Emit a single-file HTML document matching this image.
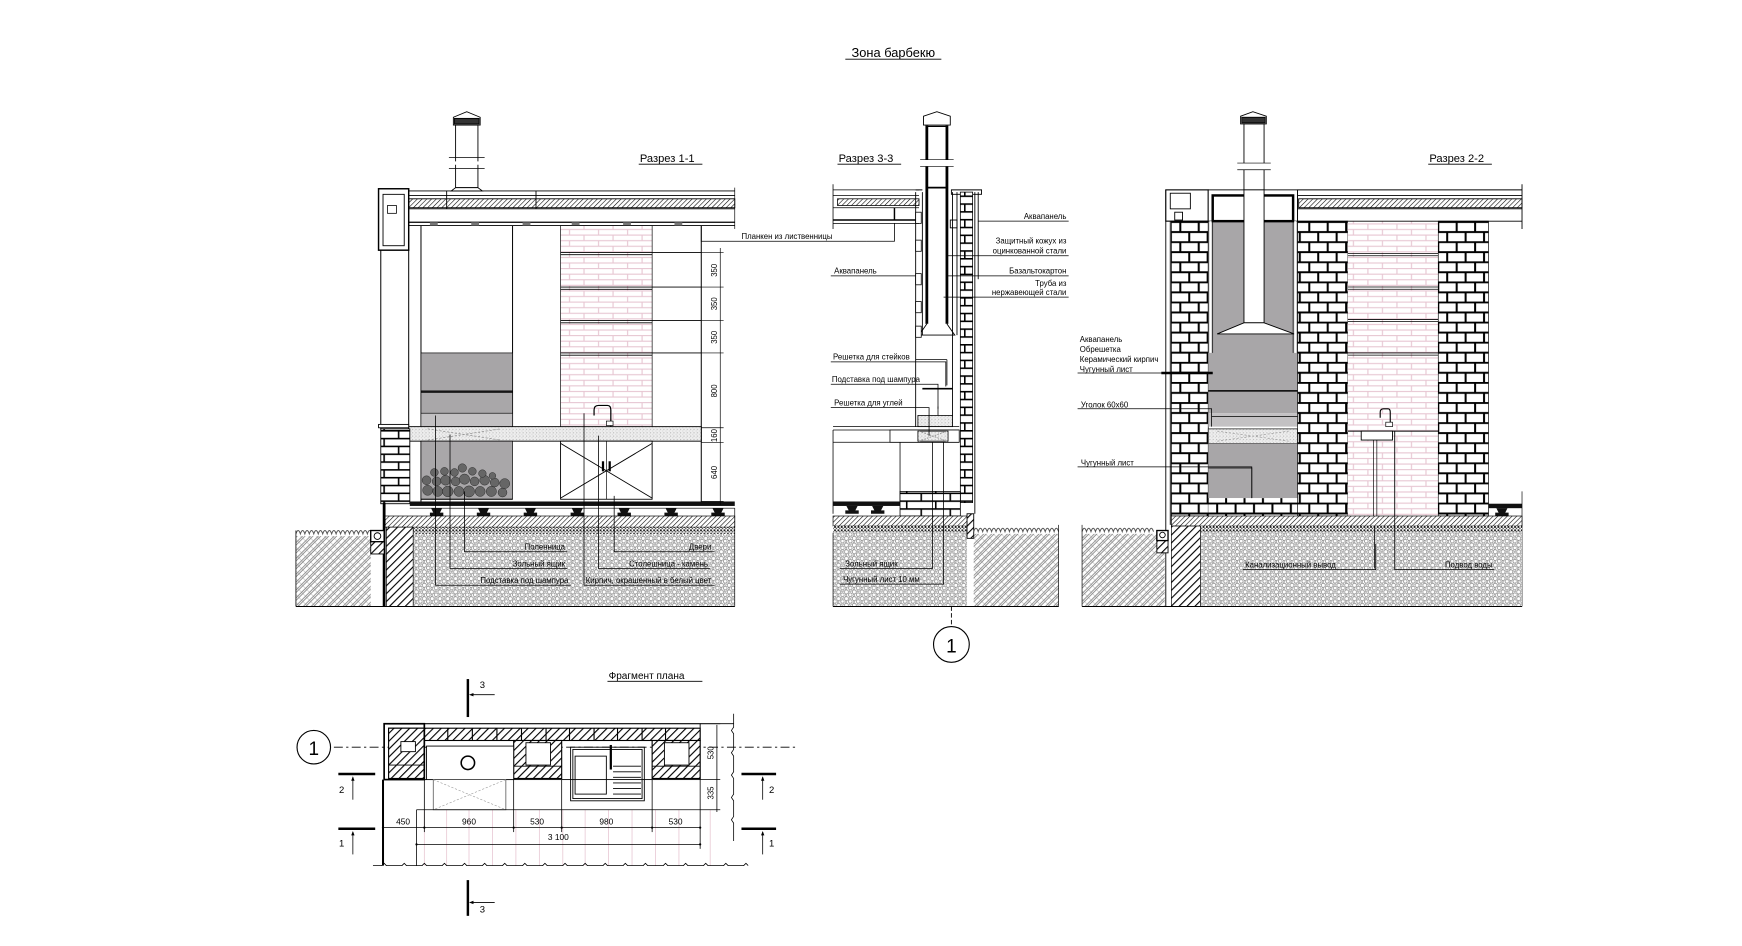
<!DOCTYPE html>
<html><head><meta charset="utf-8"><style>
html,body{margin:0;padding:0;background:#fff;}
svg{display:block;}
text{font-family:"Liberation Sans",sans-serif;fill:#000;}
</style></head><body>
<svg width="1742" height="946" viewBox="0 0 1560 847" preserveAspectRatio="none" xmlns="http://www.w3.org/2000/svg">
<defs>
<pattern id="hat" width="3" height="3" patternUnits="userSpaceOnUse" patternTransform="rotate(45)"><rect width="3" height="3" fill="#fff"/><line x1="0" y1="0" x2="0" y2="3" stroke="#000" stroke-width="1"/></pattern>
<pattern id="hatp" width="5" height="5" patternUnits="userSpaceOnUse" patternTransform="rotate(45)"><rect width="5" height="5" fill="#fff"/><line x1="0" y1="0" x2="0" y2="5" stroke="#000" stroke-width="2"/></pattern>
<pattern id="gr1" width="5" height="5" patternUnits="userSpaceOnUse" patternTransform="rotate(45)"><line x1="1" y1="0" x2="1" y2="5" stroke="#777" stroke-width="0.7"/><line x1="2.6" y1="0" x2="2.6" y2="5" stroke="#777" stroke-width="0.7"/></pattern>
<pattern id="gr2" width="5" height="5" patternUnits="userSpaceOnUse" patternTransform="rotate(-45)"><line x1="1" y1="0" x2="1" y2="5" stroke="#888" stroke-width="0.6"/></pattern>
<pattern id="stone" width="7" height="6" patternUnits="userSpaceOnUse"><rect width="7" height="6" fill="#fff"/><circle cx="2" cy="2" r="1.8" fill="none" stroke="#888" stroke-width="0.7"/><circle cx="5.5" cy="4.5" r="1.6" fill="none" stroke="#888" stroke-width="0.7"/><circle cx="5.5" cy="1" r="0.9" fill="none" stroke="#999" stroke-width="0.6"/><circle cx="1.5" cy="5" r="0.8" fill="none" stroke="#999" stroke-width="0.6"/></pattern>
<pattern id="grav" width="3" height="3" patternUnits="userSpaceOnUse"><rect width="3" height="3" fill="#fff"/><rect width="1.6" height="1.6" fill="#111"/><rect x="1.5" y="1.5" width="1.2" height="1.2" fill="#444"/></pattern>
<pattern id="speck" width="3" height="3" patternUnits="userSpaceOnUse"><rect width="3" height="3" fill="#eee"/><rect width="1" height="1" fill="#bbb"/><rect x="2" y="1.5" width="0.8" height="0.8" fill="#ccc"/></pattern>
<pattern id="brd" width="33" height="18" patternUnits="userSpaceOnUse"><rect width="33" height="18" fill="#fff"/><path d="M0 0.8H33M0 9.8H33M1 0V9M17.5 0V9M9 9V18M25.5 9V18" stroke="#000" stroke-width="1.8"/></pattern>
<pattern id="brs" width="26" height="14" patternUnits="userSpaceOnUse"><rect width="26" height="14" fill="#fff"/><path d="M0 0.7H26M0 7.7H26M6 0V7M19 7V14" stroke="#000" stroke-width="1.4"/></pattern>
<pattern id="brp" width="26" height="10" patternUnits="userSpaceOnUse"><rect width="26" height="10" fill="#fff"/><path d="M0 0.5H26M0 5.5H26M3 0V5M16 5V10" stroke="#e7c6d2" stroke-width="1"/></pattern>
</defs>

<!-- Title -->
<text x="800" y="51" font-size="11.5" text-anchor="middle">Зона барбекю</text>
<line x1="757" y1="53" x2="843" y2="53" stroke="#000" stroke-width="0.8"/>

<!-- ============ SECTION 1-1 ============ -->
<text x="573" y="145" font-size="10">Разрез 1-1</text>
<line x1="572" y1="147" x2="629" y2="147" stroke="#000" stroke-width="0.8"/>
<g stroke="#000" fill="#fff" stroke-width="0.8">
<rect x="408" y="112" width="20" height="56"/>
<path d="M406 112V105L418 100L430 105V112Z"/>
<rect x="407" y="106" width="22" height="5" fill="#333"/>
<path d="M404 171L408 168H428L432 171Z"/>
</g>
<g stroke="#fff" stroke-width="3"><line x1="405" y1="146" x2="431" y2="146"/></g>
<line x1="402" y1="141" x2="434" y2="141" stroke="#000" stroke-width="0.7"/>
<line x1="402" y1="151" x2="434" y2="151" stroke="#000" stroke-width="0.7"/>
<g stroke="#000" stroke-width="0.8" fill="none">
<line x1="339" y1="171" x2="658" y2="171"/>
<line x1="366" y1="175" x2="658" y2="175"/>
<rect x="366" y="178" width="292" height="8" fill="url(#hat)"/>
<line x1="366" y1="187" x2="658" y2="187"/>
<line x1="366" y1="199" x2="658" y2="199" stroke-width="1.2"/>
<line x1="366" y1="202" x2="658" y2="202"/>
<line x1="400" y1="171" x2="400" y2="187"/><line x1="480" y1="171" x2="480" y2="187"/>
</g>
<g fill="#777"><rect x="385" y="199" width="7" height="3"/><rect x="422" y="199" width="7" height="3"/><rect x="468" y="199" width="7" height="3"/><rect x="512" y="199" width="7" height="3"/><rect x="558" y="199" width="7" height="3"/><rect x="604" y="199" width="7" height="3"/></g>
<line x1="658" y1="168" x2="658" y2="205" stroke="#000" stroke-width="0.6"/>
<g stroke="#000" fill="#fff">
<rect x="339" y="169" width="27" height="55" stroke-width="1.3"/>
<rect x="343" y="174" width="19" height="46" stroke-width="0.8"/>
<rect x="347" y="184" width="8" height="7" stroke-width="0.7"/>
</g>
<g stroke="#000" stroke-width="0.9">
<line x1="341" y1="224" x2="341" y2="384"/><line x1="366" y1="224" x2="366" y2="384"/>
<line x1="377" y1="202" x2="377" y2="450"/><line x1="459" y1="202" x2="459" y2="384"/>
<line x1="628" y1="202" x2="628" y2="450"/>
</g>
<rect x="502" y="202" width="82" height="182" fill="url(#brp)" stroke="#000" stroke-width="0.6"/>
<g stroke="#000" stroke-width="0.8">
<line x1="502" y1="226" x2="628" y2="226"/><line x1="502" y1="228" x2="584" y2="228"/>
<line x1="502" y1="257" x2="628" y2="257"/><line x1="502" y1="259" x2="584" y2="259"/>
<line x1="502" y1="287" x2="628" y2="287"/><line x1="502" y1="289" x2="584" y2="289"/>
<line x1="502" y1="316" x2="628" y2="316"/><line x1="502" y1="318" x2="584" y2="318"/>
</g>
<rect x="377" y="316" width="82" height="34" fill="#a7a5a7" stroke="#000" stroke-width="0.6"/>
<rect x="377" y="350" width="82" height="20" fill="#a9a7a9" stroke="#000" stroke-width="0.6"/>
<line x1="377" y1="351" x2="459" y2="351" stroke="#000" stroke-width="1.4"/>
<rect x="377" y="370" width="82" height="13" fill="#c2c0c2" stroke="#000" stroke-width="0.5"/>
<path d="M532 372V367Q532 363 536 363H544Q547 363 547 367V382" fill="none" stroke="#000" stroke-width="1.1"/>
<rect x="543" y="377" width="6" height="4" fill="#fff" stroke="#000" stroke-width="0.6"/>
<rect x="366" y="382" width="262" height="13" fill="url(#speck)" stroke="#000" stroke-width="0.8"/>
<path d="M383 384L448 394M383 394L448 384" stroke="#888" stroke-width="0.6" stroke-dasharray="2,1.5"/>
<rect x="339" y="380" width="27" height="3" fill="#fff" stroke="#000" stroke-width="0.8"/>
<rect x="341" y="384" width="26" height="67" fill="url(#brs)" stroke="#000" stroke-width="0.8"/>
<rect x="377" y="395" width="82" height="52" fill="#a9a7a9" stroke="#000" stroke-width="0.6"/>
<g fill="#666" stroke="#222" stroke-width="0.4">
<circle cx="383" cy="439" r="4.5"/><circle cx="392" cy="440" r="4.5"/><circle cx="401" cy="440" r="4.8"/><circle cx="411" cy="440" r="4.5"/><circle cx="420" cy="440" r="5"/><circle cx="430" cy="440" r="4.5"/><circle cx="440" cy="440" r="4.6"/><circle cx="450" cy="441" r="4"/>
<circle cx="382" cy="430" r="4"/><circle cx="391" cy="431" r="4"/><circle cx="399" cy="430" r="4.4"/><circle cx="408" cy="431" r="4"/><circle cx="416" cy="429" r="4.6"/><circle cx="425" cy="431" r="4"/><circle cx="434" cy="430" r="4.4"/><circle cx="443" cy="432" r="4"/><circle cx="452" cy="433" r="4.5"/>
<circle cx="389" cy="423" r="3.5"/><circle cx="398" cy="422" r="3.5"/><circle cx="407" cy="423" r="3.5"/><circle cx="414" cy="419" r="3.8"/><circle cx="423" cy="422" r="3.5"/><circle cx="432" cy="424" r="3.4"/><circle cx="441" cy="426" r="3"/>
</g>
<line x1="377" y1="447" x2="459" y2="447" stroke="#000" stroke-width="0.8"/>
<rect x="502" y="395" width="82" height="52" fill="#fff" stroke="#000" stroke-width="0.8"/>
<path d="M502 397L584 446M584 397L502 446" stroke="#000" stroke-width="0.8"/>
<line x1="543" y1="395" x2="543" y2="447" stroke="#000" stroke-width="0.6"/>
<rect x="539" y="413" width="2" height="9" fill="#000"/><rect x="545" y="413" width="2" height="9" fill="#000"/>
<rect x="367" y="449" width="291" height="4" fill="#111"/>
<line x1="367" y1="455" x2="658" y2="455" stroke="#000" stroke-width="0.6"/>
<g fill="#111">
<path d="M386 455h10l-2 4h3v3h-12v-3h3z"/><path d="M428 455h10l-2 4h3v3h-12v-3h3z"/><path d="M470 455h10l-2 4h3v3h-12v-3h3z"/><path d="M512 455h10l-2 4h3v3h-12v-3h3z"/><path d="M554 455h10l-2 4h3v3h-12v-3h3z"/><path d="M596 455h10l-2 4h3v3h-12v-3h3z"/><path d="M638 455h10l-2 4h3v3h-12v-3h3z"/>
</g>
<rect x="344" y="462" width="314" height="10" fill="url(#hat)" stroke="#000" stroke-width="0.6"/>
<rect x="370" y="472" width="288" height="6" fill="url(#grav)"/>
<rect x="370" y="478" width="288" height="65" fill="url(#stone)"/>
<rect x="346" y="472" width="24" height="71" fill="url(#hatp)" stroke="#000" stroke-width="0.6"/>
<line x1="344" y1="450" x2="344" y2="543" stroke="#000" stroke-width="2.5"/>
<rect x="265" y="480" width="67" height="63" fill="url(#gr1)"/>
<rect x="265" y="480" width="67" height="63" fill="url(#gr2)" opacity="0.5"/>
<path d="M265 478 q2-6 4 0 q2-6 4 0 q2-6 4 0 q2-6 4 0 q2-6 4 0 q2-6 4 0 q2-6 4 0 q2-6 4 0 q2-6 4 0 q2-6 4 0 q2-6 4 0 q2-6 4 0 q2-6 4 0 q2-6 4 0 q2-6 4 0 q2-6 4 0 q2-6 4 0" fill="none" stroke="#555" stroke-width="0.9"/>
<rect x="332" y="475" width="12" height="21" fill="url(#hatp)" stroke="#000" stroke-width="0.8"/>
<rect x="332" y="475" width="12" height="10" fill="#fff" stroke="#000" stroke-width="1.2"/>
<circle cx="338" cy="480" r="3" fill="none" stroke="#000" stroke-width="0.8"/>
<line x1="265" y1="475" x2="265" y2="543" stroke="#000" stroke-width="0.7"/>
<path d="M265 543H658" stroke="#000" stroke-width="0.9"/>
<line x1="658" y1="455" x2="658" y2="543" stroke="#000" stroke-width="0.6"/>
<g stroke="#000" stroke-width="0.6">
<line x1="645" y1="222" x2="645" y2="452"/>
<line x1="628" y1="226" x2="648" y2="226"/><line x1="628" y1="257" x2="648" y2="257"/><line x1="628" y1="287" x2="648" y2="287"/><line x1="628" y1="316" x2="648" y2="316"/><line x1="628" y1="383" x2="648" y2="383"/><line x1="628" y1="396" x2="648" y2="396"/><line x1="628" y1="449" x2="648" y2="449"/>
</g>
<g font-size="7" text-anchor="middle">
<text transform="translate(642 242) rotate(-90)">350</text>
<text transform="translate(642 272) rotate(-90)">350</text>
<text transform="translate(642 302) rotate(-90)">350</text>
<text transform="translate(642 350) rotate(-90)">800</text>
<text transform="translate(642 390) rotate(-90)">160</text>
<text transform="translate(642 423) rotate(-90)">640</text>
</g>
<polyline points="628,202 628,216 776,216" fill="none" stroke="#000" stroke-width="0.7"/>
<text x="664" y="214" font-size="7">Планкен из лиственницы</text>
<g fill="none" stroke="#000" stroke-width="0.7">
<polyline points="390,372 390,524 511,524"/>
<polyline points="403,389 403,509 508,509"/>
<polyline points="416,440 416,494 508,494"/>
<polyline points="523,370 523,524 640,524"/>
<polyline points="536,390 536,509 636,509"/>
<polyline points="550,444 550,494 640,494"/>
</g>
<g font-size="7" text-anchor="end">
<text x="506" y="492">Поленница</text>
<text x="506" y="507">Зольный ящик</text>
<text x="509" y="522">Подставка под шампура</text>
<text x="637" y="492">Двери</text>
<text x="634" y="507">Столешница - камень</text>
<text x="637" y="522">Кирпич, окрашенный в белый цвет</text>
</g>

<!-- ============ SECTION 3-3 ============ -->
<text x="751" y="145" font-size="10">Разрез 3-3</text>
<line x1="750" y1="147" x2="807" y2="147" stroke="#000" stroke-width="0.8"/>
<path d="M827 112V104L839 100L851 104V112Z" fill="#fff" stroke="#000" stroke-width="0.8"/>
<rect x="829" y="112" width="20" height="178" fill="#fff" stroke="none"/>
<line x1="830" y1="112" x2="830" y2="290" stroke="#000" stroke-width="2.5"/>
<line x1="848" y1="112" x2="848" y2="290" stroke="#000" stroke-width="2.5"/>
<line x1="831" y1="113" x2="847" y2="113" stroke="#000" stroke-width="1.5"/>
<line x1="831" y1="168" x2="847" y2="168" stroke="#000" stroke-width="1.5"/>
<rect x="826" y="143" width="26" height="6" fill="#fff"/>
<line x1="824" y1="143" x2="854" y2="143" stroke="#000" stroke-width="0.6"/>
<line x1="824" y1="149" x2="854" y2="149" stroke="#000" stroke-width="0.6"/>
<path d="M830 290L823 300H855L848 290" fill="#fff" stroke="#000" stroke-width="0.8"/>
<g stroke="#000" stroke-width="0.7" fill="none">
<line x1="746" y1="170" x2="823" y2="170"/><line x1="746" y1="175" x2="823" y2="175"/>
<rect x="750" y="178" width="73" height="6" fill="url(#hat)"/>
<line x1="746" y1="186" x2="823" y2="186"/><line x1="746" y1="197" x2="823" y2="197" stroke-width="1.3"/><line x1="746" y1="200" x2="823" y2="200"/>
<line x1="801" y1="186" x2="801" y2="197" stroke-width="1.3"/>
<line x1="746" y1="165" x2="746" y2="205"/>
</g>
<polyline points="801,200 801,216 776,216" fill="none" stroke="#000" stroke-width="0.7"/>
<g stroke="#000" stroke-width="0.8" fill="none">
<line x1="820" y1="172" x2="820" y2="382"/><line x1="826" y1="172" x2="826" y2="300"/>
<line x1="853" y1="172" x2="853" y2="382"/><line x1="857" y1="172" x2="857" y2="300"/>
<line x1="873" y1="172" x2="873" y2="460"/><line x1="876" y1="172" x2="876" y2="250"/>
<path d="M820 170H826M852 170H879V174H852Z"/>
<rect x="851" y="197" width="6" height="7" stroke-width="0.8"/>
</g>
<g fill="#fff" stroke="#000" stroke-width="0.7"><rect x="820" y="190" width="5" height="10"/><rect x="820" y="215" width="5" height="10"/><rect x="820" y="245" width="5" height="10"/><rect x="820" y="270" width="5" height="10"/><rect x="820" y="292" width="5" height="10"/></g>
<rect x="860" y="172" width="11" height="278" fill="url(#brs)" stroke="#000" stroke-width="0.7"/>
<g stroke="#000" stroke-width="0.7" fill="none">
<line x1="820" y1="322" x2="848" y2="322"/><line x1="848" y1="322" x2="848" y2="345"/>
<line x1="826" y1="348" x2="853" y2="348" stroke-width="1.5"/>
<line x1="840" y1="364" x2="840" y2="380"/>
<rect x="822" y="372" width="31" height="10" fill="url(#speck)"/>
</g>
<g stroke="#000" stroke-width="0.7" fill="none">
<line x1="746" y1="382" x2="859" y2="382"/><line x1="746" y1="385" x2="859" y2="385"/>
<line x1="746" y1="396" x2="859" y2="396"/>
<line x1="746" y1="385" x2="746" y2="460"/>
<rect x="797" y="385" width="62" height="11" fill="#fff"/>
<rect x="822" y="386" width="27" height="9" fill="url(#speck)"/>
<path d="M823 386L848 395M823 395L848 386" stroke="#888" stroke-dasharray="1.5,1"/>
<line x1="806" y1="396" x2="806" y2="450"/>
</g>
<rect x="746" y="449" width="60" height="4" fill="#111"/>
<g fill="#111"><path d="M758 453h10l-2 4h3v3h-12v-3h3z"/><path d="M781 453h10l-2 4h3v3h-12v-3h3z"/></g>
<rect x="806" y="440" width="54" height="22" fill="url(#brs)" stroke="#000" stroke-width="0.7"/>
<rect x="746" y="462" width="124" height="9" fill="url(#hat)" stroke="#000" stroke-width="0.6"/>
<rect x="746" y="471" width="120" height="6" fill="url(#grav)"/>
<rect x="746" y="477" width="120" height="66" fill="url(#stone)"/>
<rect x="866" y="460" width="6" height="22" fill="url(#hatp)" stroke="#000" stroke-width="0.8"/>
<rect x="872" y="478" width="76" height="65" fill="url(#gr1)"/>
<rect x="872" y="478" width="76" height="65" fill="url(#gr2)" opacity="0.5"/>
<path d="M872 476 q2-6 4 0 q2-6 4 0 q2-6 4 0 q2-6 4 0 q2-6 4 0 q2-6 4 0 q2-6 4 0 q2-6 4 0 q2-6 4 0 q2-6 4 0 q2-6 4 0 q2-6 4 0 q2-6 4 0 q2-6 4 0 q2-6 4 0 q2-6 4 0 q2-6 4 0 q2-6 4 0 q2-6 4 0" fill="none" stroke="#555" stroke-width="0.9"/>
<line x1="948" y1="470" x2="948" y2="543" stroke="#000" stroke-width="0.6"/>
<line x1="746" y1="477" x2="746" y2="543" stroke="#000" stroke-width="0.6"/>
<line x1="746" y1="543" x2="948" y2="543" stroke="#000" stroke-width="0.9"/>
<g fill="none" stroke="#000" stroke-width="0.7">
<line x1="876" y1="198" x2="957" y2="198"/>
<line x1="849" y1="229" x2="957" y2="229"/>
<line x1="849" y1="247" x2="957" y2="247"/>
<line x1="845" y1="266" x2="957" y2="266"/>
<line x1="744" y1="247" x2="820" y2="247"/>
<polyline points="744,324 847,324 847,346"/>
<polyline points="744,344 840,344 840,366"/>
<polyline points="744,365 832,365 832,390"/>
<polyline points="835,396 835,509 752,509"/>
<polyline points="845,396 845,523 752,523"/>
</g>
<g font-size="7">
<text x="955" y="196" text-anchor="end">Аквапанель</text>
<text x="955" y="218" text-anchor="end">Защитный кожух из</text>
<text x="955" y="227" text-anchor="end">оцинкованной стали</text>
<text x="955" y="245" text-anchor="end">Базальтокартон</text>
<text x="955" y="256" text-anchor="end">Труба из</text>
<text x="955" y="264" text-anchor="end">нержавеющей стали</text>
<text x="747" y="245">Аквапанель</text>
<text x="746" y="322">Решетка для стейков</text>
<text x="745" y="342">Подставка под шампура</text>
<text x="747" y="363">Решетка для углей</text>
<text x="757" y="507">Зольный ящик</text>
<text x="755" y="521">Чугунный лист 10 мм</text>
</g>
<line x1="852" y1="543" x2="852" y2="561" stroke="#000" stroke-width="0.8" stroke-dasharray="4,2"/>
<circle cx="852" cy="577" r="16" fill="#fff" stroke="#000" stroke-width="1"/>
<text x="852" y="584" font-size="17" text-anchor="middle">1</text>

<!-- ============ SECTION 2-2 ============ -->
<text x="1280" y="145" font-size="10">Разрез 2-2</text>
<line x1="1279" y1="147" x2="1336" y2="147" stroke="#000" stroke-width="0.8"/>
<g stroke="#000" fill="#fff" stroke-width="0.8">
<path d="M1111 111V104L1122 100L1134 104V111Z"/>
<rect x="1112" y="105" width="21" height="5" fill="#333"/>
<rect x="1114" y="111" width="18" height="60"/>
</g>
<rect x="1110" y="146" width="26" height="6" fill="#fff"/>
<line x1="1108" y1="146" x2="1138" y2="146" stroke="#000" stroke-width="0.6"/>
<line x1="1108" y1="152" x2="1138" y2="152" stroke="#000" stroke-width="0.6"/>
<line x1="1044" y1="170" x2="1044" y2="543" stroke="#000" stroke-width="0.8"/>
<line x1="1048" y1="170" x2="1048" y2="470" stroke="#000" stroke-width="0.8"/>
<rect x="1044" y="170" width="38" height="28" fill="#fff" stroke="#000" stroke-width="1"/>
<rect x="1048" y="173" width="18" height="14" fill="#fff" stroke="#000" stroke-width="0.8"/>
<rect x="1052" y="190" width="7" height="7" fill="#fff" stroke="#000" stroke-width="0.8"/>
<rect x="1049" y="198" width="33" height="264" fill="url(#brd)" stroke="#000" stroke-width="0.6"/>
<rect x="1082" y="198" width="80" height="152" fill="#a8a6a8"/>
<rect x="1082" y="350" width="80" height="20" fill="#a8a6a8"/>
<line x1="1082" y1="350" x2="1162" y2="350" stroke="#000" stroke-width="1.3"/>
<rect x="1082" y="370" width="80" height="12" fill="#c3c1c3"/>
<rect x="1082" y="384" width="80" height="13" fill="url(#speck)" stroke="#000" stroke-width="0.6"/>
<path d="M1090 386L1154 395M1090 395L1154 386" stroke="#999" stroke-width="0.6" stroke-dasharray="2,1.5"/>
<rect x="1082" y="397" width="80" height="49" fill="#a8a6a8"/>
<polyline points="1082,419 1121,419 1121,446" fill="none" stroke="#000" stroke-width="0.7"/>
<rect x="1082" y="446" width="80" height="16" fill="url(#brd)"/>
<rect x="1082" y="170" width="80" height="28" fill="#fff" stroke="#000" stroke-width="0.8"/>
<rect x="1086" y="175" width="72" height="23" fill="#fff" stroke="#000" stroke-width="2.2"/>
<rect x="1114" y="170" width="18" height="119" fill="#fff" stroke="#000" stroke-width="0.8"/>
<path d="M1114 289L1090 299H1159L1132 289Z" fill="#fff" stroke="#000" stroke-width="0.8"/>
<line x1="1084" y1="198" x2="1084" y2="316" stroke="#fff" stroke-width="2"/><line x1="1082" y1="198" x2="1082" y2="316" stroke="#000" stroke-width="0.6"/><line x1="1086" y1="198" x2="1086" y2="316" stroke="#000" stroke-width="0.6"/>
<line x1="1160" y1="198" x2="1160" y2="316" stroke="#fff" stroke-width="2"/><line x1="1158" y1="198" x2="1158" y2="316" stroke="#000" stroke-width="0.6"/><line x1="1162" y1="198" x2="1162" y2="316" stroke="#000" stroke-width="0.6"/>
<rect x="1162" y="198" width="45" height="264" fill="url(#brd)" stroke="#000" stroke-width="0.6"/>
<rect x="1207" y="198" width="81" height="264" fill="url(#brp)"/>
<rect x="1288" y="198" width="45" height="264" fill="url(#brd)" stroke="#000" stroke-width="0.6"/>
<g stroke="#000" stroke-width="0.7">
<line x1="1207" y1="227" x2="1288" y2="227"/><line x1="1207" y1="229" x2="1288" y2="229"/>
<line x1="1207" y1="257" x2="1288" y2="257"/><line x1="1207" y1="259" x2="1288" y2="259"/>
<line x1="1207" y1="286" x2="1288" y2="286"/><line x1="1207" y1="288" x2="1288" y2="288"/>
<line x1="1207" y1="316" x2="1288" y2="316"/><line x1="1207" y1="318" x2="1288" y2="318"/>
</g>
<g stroke="#000" stroke-width="0.8" fill="none">
<line x1="1162" y1="170" x2="1363" y2="170"/><line x1="1162" y1="175" x2="1363" y2="175"/>
<rect x="1163" y="178" width="200" height="8" fill="url(#hat)"/>
<line x1="1162" y1="187" x2="1363" y2="187"/><line x1="1162" y1="198" x2="1363" y2="198"/>
<line x1="1162" y1="170" x2="1162" y2="198"/>
<line x1="1363" y1="165" x2="1363" y2="205"/>
</g>
<line x1="1207" y1="386" x2="1288" y2="386" stroke="#000" stroke-width="0.8"/>
<rect x="1219" y="386" width="28" height="8" fill="#fff" stroke="#000" stroke-width="0.8"/>
<path d="M1236 374V369Q1236 366 1239 366H1243Q1245 366 1245 369V381" fill="none" stroke="#000" stroke-width="1"/>
<rect x="1241" y="378" width="6" height="4" fill="#fff" stroke="#000" stroke-width="0.6"/>
<line x1="1230" y1="394" x2="1230" y2="487" stroke="#000" stroke-width="0.6"/><line x1="1233" y1="394" x2="1233" y2="487" stroke="#000" stroke-width="0.6"/>
<line x1="1249" y1="386" x2="1249" y2="462" stroke="#000" stroke-width="0.8"/>
<rect x="1333" y="451" width="30" height="4" fill="#111"/>
<path d="M1340 455h10l-2 4h3v3h-12v-3h3z" fill="#111"/>
<line x1="1363" y1="440" x2="1363" y2="543" stroke="#000" stroke-width="0.6"/>
<rect x="1049" y="462" width="314" height="9" fill="url(#hat)" stroke="#000" stroke-width="0.6"/>
<rect x="1075" y="471" width="288" height="6" fill="url(#grav)"/>
<rect x="1075" y="477" width="288" height="66" fill="url(#stone)"/>
<rect x="1049" y="471" width="26" height="72" fill="url(#hatp)" stroke="#000" stroke-width="0.6"/>
<line x1="1231" y1="471" x2="1231" y2="509" stroke="#000" stroke-width="0.7"/>
<rect x="969" y="478" width="74" height="65" fill="url(#gr1)"/>
<rect x="969" y="478" width="74" height="65" fill="url(#gr2)" opacity="0.5"/>
<path d="M969 476 q2-6 4 0 q2-6 4 0 q2-6 4 0 q2-6 4 0 q2-6 4 0 q2-6 4 0 q2-6 4 0 q2-6 4 0 q2-6 4 0 q2-6 4 0 q2-6 4 0 q2-6 4 0 q2-6 4 0 q2-6 4 0 q2-6 4 0 q2-6 4 0" fill="none" stroke="#555" stroke-width="0.9"/>
<rect x="1036" y="475" width="10" height="20" fill="url(#hatp)" stroke="#000" stroke-width="0.8"/>
<rect x="1036" y="475" width="10" height="9" fill="#fff" stroke="#000" stroke-width="1.2"/>
<circle cx="1041" cy="479" r="2.5" fill="none" stroke="#000" stroke-width="0.8"/>
<line x1="969" y1="470" x2="969" y2="543" stroke="#000" stroke-width="0.6"/>
<line x1="969" y1="543" x2="1363" y2="543" stroke="#000" stroke-width="0.9"/>
<g fill="none" stroke="#000" stroke-width="0.7">
<line x1="965" y1="334" x2="1086" y2="334"/>
<line x1="1040" y1="334" x2="1086" y2="334" stroke-width="2.2"/>
<polyline points="965,366 1085,366 1085,382"/>
<line x1="1085" y1="373" x2="1162" y2="373"/>
<polyline points="965,418 1121,418 1121,446"/>
<polyline points="1113,510 1232,510 1232,487"/>
<polyline points="1338,510 1249,510 1249,462"/>
</g>
<g font-size="7">
<text x="967" y="306">Аквапанель</text>
<text x="967" y="315">Обрешетка</text>
<text x="967" y="324">Керамический кирпич</text>
<text x="967" y="333">Чугунный лист</text>
<text x="968" y="365">Уголок 60х60</text>
<text x="968" y="417">Чугунный лист</text>
<text x="1115" y="508">Канализационный вывод</text>
<text x="1294" y="508">Подвод воды</text>
</g>

<!-- ============ PLAN ============ -->
<text x="545" y="608" font-size="9">Фрагмент плана</text>
<line x1="544" y1="610" x2="629" y2="610" stroke="#000" stroke-width="0.7"/>
<g stroke="#e7c6d2" stroke-width="0.7">
<line x1="380" y1="725" x2="380" y2="775"/><line x1="400" y1="725" x2="400" y2="775"/><line x1="420" y1="725" x2="420" y2="775"/><line x1="441" y1="725" x2="441" y2="775"/><line x1="462" y1="725" x2="462" y2="775"/><line x1="483" y1="725" x2="483" y2="775"/><line x1="504" y1="725" x2="504" y2="775"/><line x1="524" y1="725" x2="524" y2="775"/><line x1="545" y1="725" x2="545" y2="775"/><line x1="566" y1="725" x2="566" y2="775"/><line x1="587" y1="725" x2="587" y2="775"/><line x1="608" y1="725" x2="608" y2="775"/><line x1="636" y1="725" x2="636" y2="775"/>
</g>
<line x1="299" y1="669" x2="712" y2="669" stroke="#000" stroke-width="0.7" stroke-dasharray="8,3,2,3"/>
<circle cx="281" cy="669" r="15" fill="#fff" stroke="#000" stroke-width="1"/>
<text x="281" y="676" font-size="17" text-anchor="middle">1</text>
<g stroke="#000" fill="none" stroke-width="0.8">
<line x1="344" y1="648" x2="657" y2="648"/>
<rect x="344" y="648" width="283" height="50"/>
</g>
<rect x="348" y="652" width="279" height="11" fill="url(#hatp)" stroke="#000" stroke-width="1"/>
<g stroke="#000" stroke-width="1"><line x1="370" y1="652" x2="370" y2="663"/><line x1="401" y1="652" x2="401" y2="663"/><line x1="423" y1="652" x2="423" y2="663"/><line x1="445" y1="652" x2="445" y2="663"/><line x1="467" y1="652" x2="467" y2="663"/><line x1="489" y1="652" x2="489" y2="663"/><line x1="510" y1="652" x2="510" y2="663"/><line x1="532" y1="652" x2="532" y2="663"/><line x1="553" y1="652" x2="553" y2="663"/><line x1="575" y1="652" x2="575" y2="663"/><line x1="596" y1="652" x2="596" y2="663"/></g>
<rect x="348" y="652" width="32" height="45" fill="url(#hatp)" stroke="#000" stroke-width="1"/>
<rect x="359" y="664" width="13" height="9" fill="#fff" stroke="#000" stroke-width="0.8"/>
<line x1="348" y1="685" x2="380" y2="685" stroke="#000" stroke-width="0.8"/>
<rect x="344" y="648" width="36" height="50" fill="none" stroke="#000" stroke-width="1.5"/>
<rect x="460" y="663" width="43" height="34" fill="url(#hatp)" stroke="#000" stroke-width="1"/>
<rect x="471" y="665" width="22" height="20" fill="#fff" stroke="#000" stroke-width="0.8"/>
<line x1="460" y1="686" x2="503" y2="686" stroke="#000" stroke-width="0.8"/>
<rect x="584" y="663" width="43" height="34" fill="url(#hatp)" stroke="#000" stroke-width="1"/>
<rect x="595" y="665" width="22" height="20" fill="#fff" stroke="#000" stroke-width="0.8"/>
<line x1="584" y1="686" x2="627" y2="686" stroke="#000" stroke-width="0.8"/>
<rect x="382" y="668" width="78" height="30" fill="#fff" stroke="#000" stroke-width="0.8"/>
<circle cx="419" cy="683" r="6" fill="none" stroke="#000" stroke-width="1.4"/>
<rect x="388" y="698" width="65" height="27" fill="#fff" stroke="#555" stroke-width="0.7"/>
<path d="M388 698L453 725M453 698L388 725" stroke="#999" stroke-width="0.5" stroke-dasharray="2,1.5"/>
<g stroke="#000" fill="none" stroke-width="0.8">
<rect x="511" y="669" width="66" height="48"/><rect x="513" y="671" width="62" height="44"/>
<rect x="515" y="677" width="28" height="34"/>
<line x1="547" y1="667" x2="547" y2="689" stroke-width="2"/>
<line x1="549" y1="686" x2="574" y2="686"/><line x1="549" y1="691" x2="574" y2="691"/><line x1="549" y1="696" x2="574" y2="696"/><line x1="549" y1="701" x2="574" y2="701"/><line x1="549" y1="706" x2="574" y2="706"/><line x1="549" y1="711" x2="574" y2="711"/>
</g>
<g stroke="#000" stroke-width="0.7" fill="none">
<line x1="343" y1="698" x2="343" y2="775" stroke-width="1.8"/>
<line x1="373" y1="725" x2="373" y2="775"/>
<line x1="373" y1="725" x2="645" y2="725"/>
<line x1="343" y1="741" x2="627" y2="741"/>
<line x1="380" y1="698" x2="380" y2="745"/><line x1="460" y1="698" x2="460" y2="745"/><line x1="503" y1="698" x2="503" y2="745"/><line x1="584" y1="698" x2="584" y2="745"/><line x1="627" y1="698" x2="627" y2="760"/>
<line x1="373" y1="756" x2="627" y2="756"/>
<line x1="642" y1="649" x2="642" y2="727"/>
<line x1="627" y1="698" x2="645" y2="698"/>
<line x1="627" y1="648" x2="645" y2="648"/>
<path d="M657 639v12l-2 3 2 3v14l-2 3 2 3v14l-2 3 2 3v14l-2 3 2 3v14l-2 3 2 3v16"/>
<path d="M334 775h8l2-2 2 2h14l2-2 2 2h14l2-2 2 2h14l2-2 2 2h14l2-2 2 2h14l2-2 2 2h14l2-2 2 2h14l2-2 2 2h14l2-2 2 2h14l2-2 2 2h14l2-2 2 2h14l2-2 2 2h14l2-2 2 2h14l2-2 2 2h14l2-2 2 2h14l2-2 2 2h14l2-2 2 2h14l2-2 2 2h14l2-2 2 2"/>
</g>
<g fill="#000"><circle cx="343" cy="741" r="1"/><circle cx="380" cy="741" r="1"/><circle cx="460" cy="741" r="1"/><circle cx="503" cy="741" r="1"/><circle cx="584" cy="741" r="1"/><circle cx="627" cy="741" r="1"/><circle cx="373" cy="756" r="1"/><circle cx="627" cy="756" r="1"/></g>
<g font-size="7.5" text-anchor="middle">
<text x="361" y="738">450</text><text x="420" y="738">960</text><text x="481" y="738">530</text><text x="543" y="738">980</text><text x="605" y="738">530</text>
<text x="500" y="752">3 100</text>
<text transform="translate(639 674) rotate(-90)" font-size="7">530</text>
<text transform="translate(639 710) rotate(-90)" font-size="7">335</text>
</g>
<g stroke="#000" fill="none">
<line x1="419" y1="608" x2="419" y2="642" stroke-width="2.2"/>
<line x1="422" y1="622" x2="443" y2="622" stroke-width="0.7"/>
<line x1="419" y1="788" x2="419" y2="820" stroke-width="2.2"/>
<line x1="422" y1="808" x2="443" y2="808" stroke-width="0.7"/>
<line x1="303" y1="693" x2="336" y2="693" stroke-width="2.2"/>
<line x1="316" y1="696" x2="316" y2="716" stroke-width="0.7"/>
<line x1="303" y1="742" x2="336" y2="742" stroke-width="2.2"/>
<line x1="316" y1="745" x2="316" y2="765" stroke-width="0.7"/>
<line x1="664" y1="693" x2="695" y2="693" stroke-width="2.2"/>
<line x1="683" y1="696" x2="683" y2="716" stroke-width="0.7"/>
<line x1="664" y1="742" x2="695" y2="742" stroke-width="2.2"/>
<line x1="683" y1="745" x2="683" y2="765" stroke-width="0.7"/>
</g>
<g fill="#000"><path d="M420 622l4-1.5v3z"/><path d="M420 808l4-1.5v3z"/><path d="M316 695l-1.5 4h3z"/><path d="M316 744l-1.5 4h3z"/><path d="M683 695l-1.5 4h3z"/><path d="M683 744l-1.5 4h3z"/></g>
<g font-size="8.5" text-anchor="middle">
<text x="432" y="616">3</text><text x="432" y="817">3</text>
<text x="306" y="710">2</text><text x="306" y="758">1</text>
<text x="691" y="710">2</text><text x="691" y="758">1</text>
</g>
</svg>
</body></html>
